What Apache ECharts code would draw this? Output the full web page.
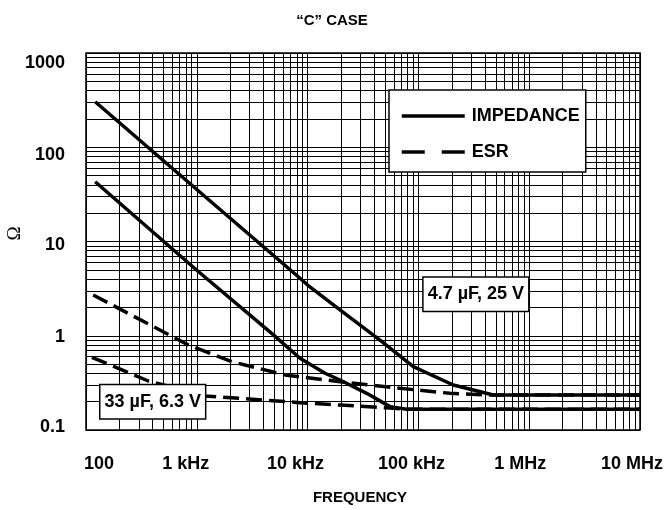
<!DOCTYPE html>
<html><head><meta charset="utf-8">
<script src="https://cdn.jsdelivr.net/npm/echarts@6/dist/echarts.min.js"></script>
<style>html,body{margin:0;padding:0;background:#fff}#c{width:664px;height:510px}</style>
</head><body><div id="c"></div>
<script>
// Tick values and labels
const freqTicks = [100, 1000, 10000, 100000, 1000000, 10000000];
const freqLabels = ['100', '1 kHz', '10 kHz', '100 kHz', '1 MHz', '10 MHz'];
const ohmTicks = [0.1, 1, 10, 100, 1000];
const ohmLabels = ['0.1', '1', '10', '100', '1000'];

// 4.7 µF, 25 V impedance
const z47Freq = [121, 1000, 8540, 10000, 19600, 45000, 89900, 206500, 474000, 10000000];
const z47Val  = [304, 35.6, 4.07, 3.45, 1.88, 0.90, 0.47, 0.30, 0.235, 0.235];
// 33 µF, 6.3 V impedance
const z33Freq = [121, 1000, 4740, 8540, 14360, 19600, 34140, 55450, 78400, 10000000];
const z33Val  = [43.1, 4.95, 1.06, 0.577, 0.40, 0.339, 0.245, 0.177, 0.166, 0.166];
// 4.7 µF, 25 V ESR
const e47Freq = [116, 838, 2065, 6250, 19600, 68200, 192800, 442700, 10000000];
const e47Val  = [2.71, 0.798, 0.531, 0.384, 0.325, 0.277, 0.245, 0.235, 0.235];
// 33 µF, 6.3 V ESR
const e33Freq = [113, 365, 1186, 8540, 19600, 51760, 78400, 10000000];
const e33Val  = [0.591, 0.331, 0.230, 0.195, 0.184, 0.172, 0.166, 0.166];

const FONT = '"Liberation Sans", Arial, Helvetica, sans-serif';
const FS = 18;
const pairs = (xs, ys) => xs.map((x, i) => [x, ys[i]]);
const idx = (ticks, v) => ticks.findIndex(t => Math.abs(Math.log10(t) - Math.log10(v)) < 1e-6);

// log grid lines (1..9 per decade)
const gridX = [], gridY = [];
for (let d = 0; d < freqTicks.length - 1; d++) for (let m = 1; m <= 9; m++) gridX.push({ xAxis: freqTicks[d] * m });
gridX.push({ xAxis: freqTicks[freqTicks.length - 1] });
for (let d = 0; d < ohmTicks.length - 1; d++) for (let m = 1; m <= 9; m++) gridY.push({ yAxis: ohmTicks[d] * m });
gridY.push({ yAxis: ohmTicks[ohmTicks.length - 1] });

const xShift = [13, -11, -12, -7, -9, -8];
const yShift = [-3, 1, 3.5, 8, 10];
const xRich = {}, yRich = {};
xShift.forEach((s, i) => {
  xRich['x' + i] = { fontSize: FS, fontWeight: 'bold', fontFamily: FONT, color: '#000',
    padding: s >= 0 ? [0, 0, 0, 2 * s] : [0, -2 * s, 0, 0] };
});
yShift.forEach((s, i) => {
  yRich['y' + i] = { fontSize: FS, fontWeight: 'bold', fontFamily: FONT, color: '#000',
    padding: s >= 0 ? [2 * s, 0, 0, 0] : [0, 0, -2 * s, 0] };
});

const solid = { color: '#000', width: 3.5, type: 'solid' };
const dashed = { color: '#000', width: 3.5, type: [16, 7], cap: 'butt' };
const lineSeries = (name, data, ls) => ({
  name, type: 'line', data, symbol: 'none', showSymbol: false, lineStyle: ls,
  itemStyle: { color: '#000' }, z: 3, silent: true, animation: false
});

const chart = echarts.init(document.getElementById('c'), null, { renderer: 'canvas' });
chart.setOption({
  animation: false,
  backgroundColor: '#fff',
  title: { text: '“C” CASE', left: 'center', top: 8,
    textStyle: { fontSize: 15, fontWeight: 'bold', fontFamily: FONT, color: '#000' } },
  grid: { left: 86, right: 24, top: 53, bottom: 80, outerBoundsMode: 'none', containLabel: false,
    show: true, borderColor: '#000', borderWidth: 1.5, backgroundColor: 'transparent' },
  legend: {
    left: 389, top: 90, orient: 'vertical',
    backgroundColor: '#fff', borderColor: '#000', borderWidth: 1.5, borderRadius: 0,
    padding: [17, 6, 11, 11], itemWidth: 63, itemHeight: 14, itemGap: 18,
    selectedMode: false, z: 6,
    itemStyle: { color: 'rgba(0,0,0,0)', borderWidth: 0, opacity: 0 },
    textStyle: { fontSize: FS, fontWeight: 'bold', fontFamily: FONT, color: '#000', padding: [0, 0, 0, 2] },
    data: [
      { name: 'IMPEDANCE', lineStyle: { type: 'solid', width: 3.5, color: '#000' } },
      { name: 'ESR', lineStyle: { type: [23, 17], width: 3.5, color: '#000' } }
    ]
  },
  xAxis: {
    type: 'log', logBase: 10, min: freqTicks[0], max: freqTicks[freqTicks.length - 1],
    axisLine: { show: false }, axisTick: { show: false }, splitLine: { show: false },
    axisLabel: { margin: 25, rich: xRich,
      formatter: v => { const i = idx(freqTicks, v); return i < 0 ? '' : '{x' + i + '|' + freqLabels[i] + '}'; } },
    name: 'FREQUENCY', nameLocation: 'middle', nameGap: 60, nameMoveOverlap: false,
    nameTextStyle: { fontSize: 15, fontWeight: 'bold', fontFamily: FONT, color: '#000', padding: [0, 6, 0, 0] }
  },
  yAxis: {
    type: 'log', logBase: 10, min: ohmTicks[0], max: ohmTicks[ohmTicks.length - 1],
    axisLine: { show: false }, axisTick: { show: false }, splitLine: { show: false },
    axisLabel: { margin: 21, rich: yRich,
      formatter: v => { const i = idx(ohmTicks, v); return i < 0 ? '' : '{y' + i + '|' + ohmLabels[i] + '}'; } },
    name: 'Ω', nameLocation: 'middle', nameGap: 61, nameRotate: 90, nameMoveOverlap: false,
    nameTextStyle: { fontSize: 19, fontFamily: '"Liberation Serif", "DejaVu Serif", serif', color: '#000',
      padding: [0, 0, 0, 16] }
  },
  series: [
    { type: 'line', data: [], z: 1, silent: true, animation: false,
      markLine: { silent: true, symbol: ['none', 'none'], animation: false, label: { show: false },
        lineStyle: { color: '#000', width: 1, type: 'solid' }, emphasis: { disabled: true },
        data: gridX.concat(gridY) } },
    lineSeries('ESR', pairs(e47Freq, e47Val), dashed),
    lineSeries('ESR', pairs(e33Freq, e33Val), dashed),
    lineSeries('IMPEDANCE', pairs(z47Freq, z47Val), solid),
    lineSeries('IMPEDANCE', pairs(z33Freq, z33Val), solid),
    { type: 'line', data: [], z: 8, silent: true, animation: false,
      markPoint: { symbol: 'rect', symbolSize: 1, itemStyle: { color: 'rgba(0,0,0,0)' }, animation: false,
        label: { show: true, position: 'inside', fontSize: FS, fontWeight: 'bold', fontFamily: FONT, color: '#000',
          backgroundColor: '#fff', borderColor: '#000', borderWidth: 1.5, padding: [8, 4, 7, 4] },
        data: [
          { coord: [330000, 2.76], label: { formatter: '4.7 µF, 25 V' } },
          { coord: [400, 0.2], label: { formatter: '33 µF, 6.3 V' } }
        ] } }
  ]
});
</script></body></html>
